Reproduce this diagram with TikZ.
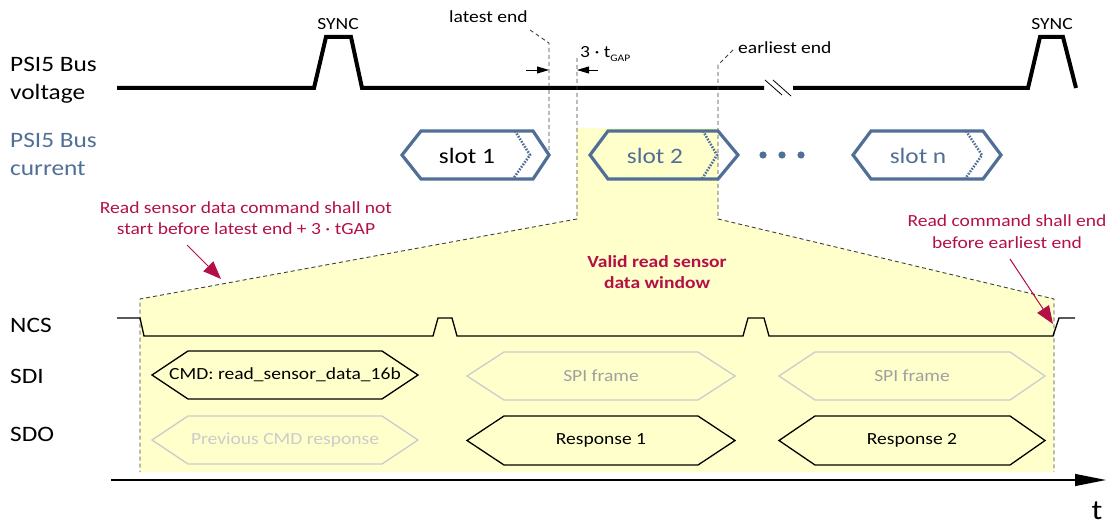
\documentclass[tikz,border=0pt]{standalone}
\usepackage{fontspec}
\setmainfont{Carlito}[FakeStretch=1.15]
\usetikzlibrary{arrows.meta}
\definecolor{psiblue}{RGB}{80,111,150}
\definecolor{crim}{RGB}{180,16,72}
\definecolor{winyellow}{RGB}{255,255,204}
\definecolor{lightgr}{RGB}{204,204,204}
\definecolor{midgr}{RGB}{160,160,160}
\newcommand\fsz[2]{\fontsize{#1}{#2}\selectfont}
\newcommand\hexshape[7]{%
  \draw[#1] (#2,{(#6+#7)/2}) -- (#3,#6) -- (#4,#6) -- (#5,{(#6+#7)/2}) -- (#4,#7) -- (#3,#7) -- cycle;}
\begin{document}
\begin{tikzpicture}[x=1pt,y=-1pt,
  lab/.style={font=\fsz{22}{27.5}, align=left, anchor=west, inner sep=0pt},
  small/.style={font=\fsz{17}{22}, align=center, inner sep=0pt},
  slottext/.style={font=\fsz{22}{26}, inner sep=0pt},
  dashline/.style={draw=black!75, line width=0.9pt, dash pattern=on 4pt off 3pt},
  vline/.style={line width=4pt, line join=miter},
  sig/.style={line width=1.3pt, line join=miter},
  slotline/.style={draw=psiblue, line width=3.2pt, line join=miter},
  slotdot/.style={draw=psiblue, line width=2.6pt, dash pattern=on 1.6pt off 1.4pt},
  note/.style={font=\fsz{17}{21.5}, align=center, text=crim, inner sep=0pt},
  notearrow/.style={draw=crim, line width=1pt, -{Triangle[length=18pt,width=14pt]}, fill=crim},
  tinyarrow/.style={line width=0.9pt, -{Triangle[length=12pt,width=7pt]}}
]
\useasboundingbox (0,0) rectangle (1107,526);

% valid window (yellow area)
\fill[winyellow] (577,128) -- (718,128) -- (718,219) -- (1054,299) -- (1054,472) -- (140,472) -- (140,299) -- (577,219) -- cycle;

% left labels
\node[lab] (lv) at (10,80.5) {PSI5 Bus\\voltage};
\node[lab, text=psiblue] (lc) at (10,154.5) {PSI5 Bus\\current};
\node[lab] (lncs) at (10,325) {NCS};
\node[lab] (lsdi) at (10,376) {SDI};
\node[lab] (lsdo) at (10,434) {SDO};

% bus voltage
\draw[vline] (117,88) -- (314,88) -- (326,37) -- (351,37) -- (362,88) -- (764,88);
\draw[vline] (793,88) -- (1028,88) -- (1040,37) -- (1063,37) -- (1076,88);
\draw[line width=0.8pt] (765,80) -- (782,95);
\draw[line width=0.8pt] (773,80) -- (791,96);
\node[small] (sync1) at (338,24) {SYNC};
\node[small] (sync2) at (1052,24) {SYNC};

% latest end / earliest end / 3 tGAP
\node[small, anchor=west] (late) at (449,17) {latest end};
\coordinate (lateA) at (530,30);
\coordinate (lateB) at (549,43);
\coordinate (lateC) at (549,155);
\draw[dashline] (lateA) -- (lateB) -- (lateC);

\node[small, anchor=west] (early) at (738,48) {earliest end};
\coordinate (earlyA) at (733,50);
\coordinate (earlyB) at (718,65);
\draw[dashline] (earlyA) -- (earlyB) -- (718,219) -- (1054,299) -- (1054,472);
\draw[dashline] (577,58) -- (577,219) -- (140,299) -- (140,472);

\node[small, anchor=west] (gap) at (580,54) {3 · t\raisebox{-0.45ex}{\fsz{10}{12}GAP}};
\draw[tinyarrow] (526,70) -- (lateB |- 0,70);
\draw[tinyarrow] (598,70) -- (577,70);

% slots
\hexshape{slotline}{402}{421}{533}{549}{131}{179}
\draw[slotdot] (515,131) -- (530,155) -- (513,179);
\node[slottext] (s1) at (467,156) {slot 1};

\hexshape{slotline}{590}{608}{718}{738}{131}{179}
\draw[slotdot] (703,131) -- (717,155) -- (702,179);
\node[slottext, text=psiblue] (s2) at (655,156) {slot 2};

\foreach \xx in {763,782,801} \fill[psiblue] (\xx,155) circle (3.6pt);

\hexshape{slotline}{853}{871}{983}{1001}{131}{179}
\draw[slotdot] (966,131) -- (982,155) -- (965,179);
\node[slottext, text=psiblue] (sn) at (918,156) {slot n};

% annotations
\node[note] (n1) at (246,218) {Read sensor data command shall not\\start before latest end + 3 · tGAP};
\coordinate (n1a) at (187,245);
\coordinate (n1b) at (221,279);
\draw[notearrow] (n1a) -- (n1b);

\node[note] (n2) at (1007,231.5) {Read command shall end\\before earliest end};
\coordinate (n2a) at (1010,259);
\coordinate (n2b) at (1053,324);
\draw[notearrow] (n2a) -- (n2b);

\node[note, font=\fsz{17}{21}\bfseries] (n3) at (657,272) {Valid read sensor\\data window};

% NCS
\draw[sig] (117,318) -- (140,318) -- (144,336) -- (433,336) -- (438,318) -- (452,318) -- (457,336)
  -- (743,336) -- (748,318) -- (764,318) -- (769,336) -- (1053,336) -- (1059,318) -- (1075,318);

% SDI / SDO frames
\hexshape{sig}{152}{188}{382}{418}{351}{399}
\node[small] (cmd) at (285,375) {CMD: read\_sensor\_data\_16b};
\hexshape{sig, draw=lightgr}{152}{188}{382}{418}{416}{464}
\node[small, text=lightgr] (prev) at (285,440) {Previous CMD response};

\hexshape{sig, draw=lightgr}{467}{504}{698}{735}{352}{400}
\node[small, text=midgr] (spi1) at (601,376) {SPI frame};
\hexshape{sig, draw=lightgr}{779}{815}{1010}{1045}{352}{400}
\node[small, text=midgr] (spi2) at (912,376) {SPI frame};

\hexshape{sig}{467}{504}{698}{735}{416}{465}
\node[small] (r1) at (601,440) {Response 1};
\hexshape{sig}{779}{815}{1010}{1045}{416}{465}
\node[small] (r2) at (912,440) {Response 2};

% time axis
\coordinate (ax0) at (111,480);
\coordinate (ax1) at (1106,480);
\draw[line width=1.3pt, -{Triangle[length=31pt,width=12pt]}] (ax0) -- (ax1);
\node[font=\fsz{28}{30}, inner sep=0pt] (tlab) at (1097,511) {t};
\end{tikzpicture}
\end{document}
